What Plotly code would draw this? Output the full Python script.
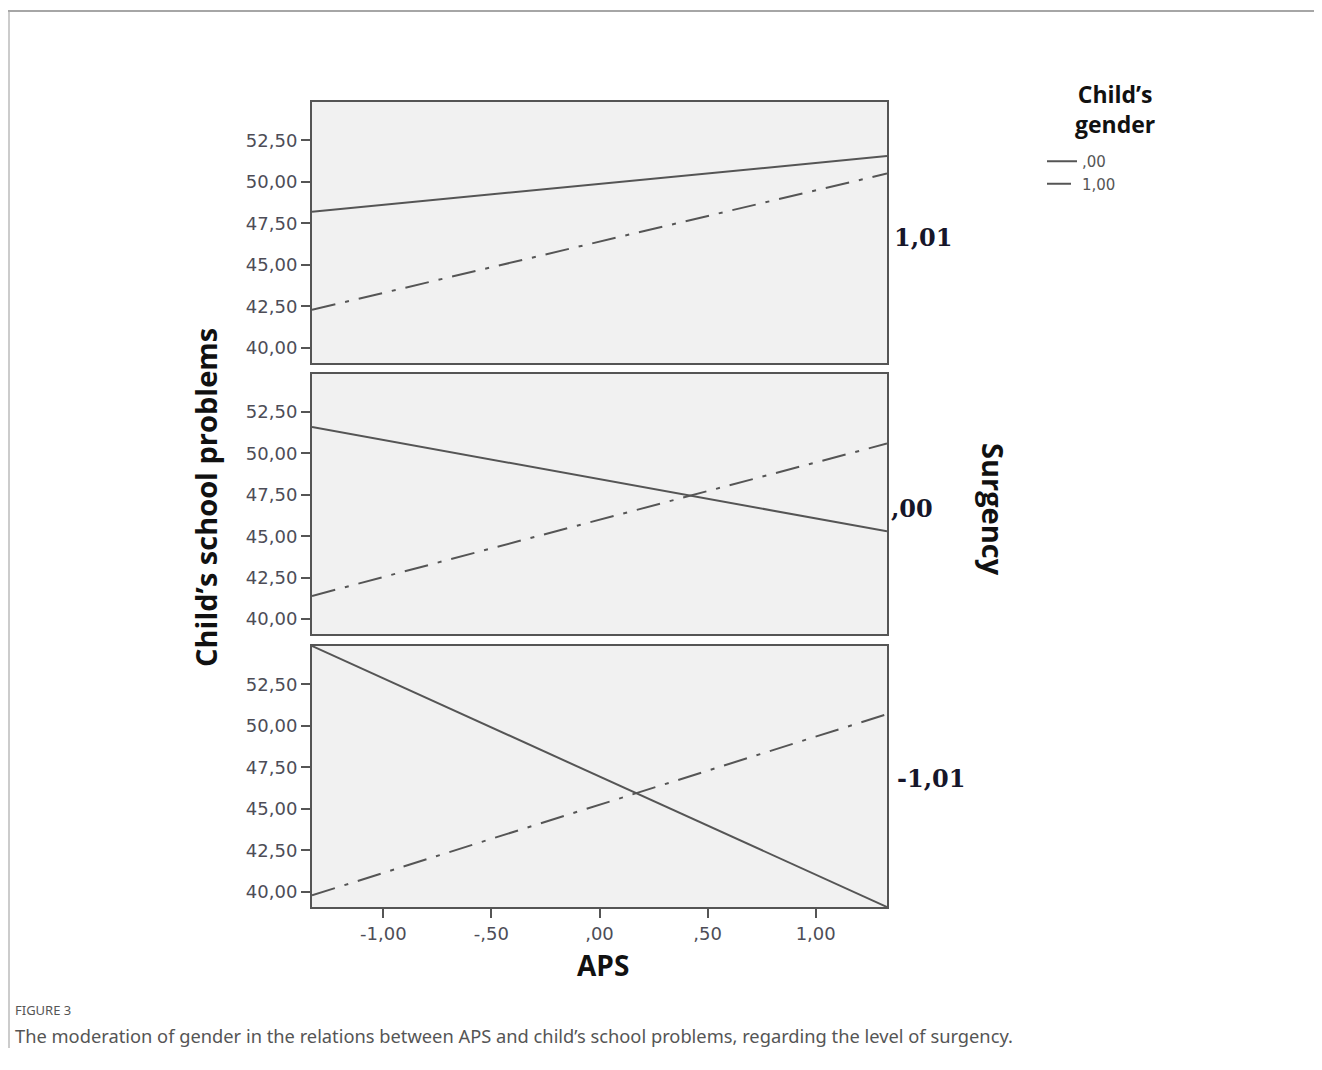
import plotly.graph_objects as go

# ---- data ----
aps_ends = [-1.33, 1.33]                      # APS min / max
surgency_levels = ["1,01", ",00", "-1,01"]    # panels top -> bottom
gender_labels = [",00", "1,00"]
gender0_start = [48.2, 51.6, 54.8]   # solid line, value at APS min
gender0_end = [51.55, 45.3, 39.1]    # solid line, value at APS max
gender1_start = [42.3, 41.4, 39.8]   # dash-dot line, value at APS min
gender1_end = [50.5, 50.6, 50.7]     # dash-dot line, value at APS max
y_ticks = [40.0, 42.5, 45.0, 47.5, 50.0, 52.5]
y_tick_text = ["40,00", "42,50", "45,00", "47,50", "50,00", "52,50"]
x_ticks = [-1.0, -0.5, 0.0, 0.5, 1.0]
x_tick_text = ["-1,00", "-,50", ",00", ",50", "1,00"]

OFF = 8  # page body margin
W, H = 1322 - OFF, 1070 - OFF
def px(x):
    return (x - OFF) / W
def py(y):
    return 1 - (y - OFF) / H

panel_px = [(102, 363), (374, 634), (646, 907)]
x_dom = [px(312), px(887)]
line_col = "#555555"
tick_font = dict(family="DejaVu Sans", size=18, color="#4d4d57")

fig = go.Figure()
for i in range(3):
    xa = "x" if i == 0 else f"x{i+1}"
    ya = "y" if i == 0 else f"y{i+1}"
    fig.add_trace(go.Scatter(
        x=aps_ends, y=[gender0_start[i], gender0_end[i]], mode="lines",
        line=dict(color=line_col, width=2), name=gender_labels[0],
        legendgroup="g0", showlegend=(i == 0), xaxis=xa, yaxis=ya,
        hoverinfo="skip"))
    fig.add_trace(go.Scatter(
        x=aps_ends, y=[gender1_start[i], gender1_end[i]], mode="lines",
        line=dict(color=line_col, width=2, dash="24px,10px,4px,10px"),
        name=gender_labels[1], legendgroup="g1", showlegend=(i == 0),
        xaxis=xa, yaxis=ya, hoverinfo="skip"))

layout = dict(
    width=W, height=H, margin=dict(l=0, r=0, t=0, b=0),
    paper_bgcolor="white", plot_bgcolor="#f1f1f1",
    font=dict(family="DejaVu Sans", color="#444444"),
)
for i, (top, bot) in enumerate(panel_px):
    xk = "xaxis" if i == 0 else f"xaxis{i+1}"
    yk = "yaxis" if i == 0 else f"yaxis{i+1}"
    last = (i == 2)
    layout[xk] = dict(
        domain=x_dom, range=[-1.33, 1.33], anchor=("y" if i == 0 else f"y{i+1}"),
        showgrid=False, zeroline=False, showline=True, mirror=True,
        linecolor=line_col, linewidth=2,
        tickvals=x_ticks if last else [], ticktext=x_tick_text if last else [],
        ticks="outside" if last else "", ticklen=9, tickwidth=2, tickcolor=line_col,
        showticklabels=last, tickfont=tick_font, fixedrange=True)
    layout[yk] = dict(
        domain=[py(bot), py(top)], range=[39.1, 54.8],
        anchor=("x" if i == 0 else f"x{i+1}"),
        showgrid=False, zeroline=False, showline=True, mirror=True,
        linecolor=line_col, linewidth=2,
        tickvals=y_ticks, ticktext=y_tick_text, ticks="outside", ticklen=9,
        tickwidth=2, tickcolor=line_col, tickfont=tick_font, fixedrange=True)
fig.update_layout(**layout)

bold = "Open Sans"
dark = "#111111"
ann = []
ann.append(dict(x=px(206), y=py(498), text="<b>Child’s school problems</b>",
                textangle=-90, font=dict(family=bold, size=29, color=dark)))
ann.append(dict(x=px(603), y=py(965), text="<b>APS</b>",
                font=dict(family=bold, size=28, color=dark)))
ann.append(dict(x=px(993), y=py(509), text="<b>Surgency</b>",
                textangle=90, font=dict(family=bold, size=29, color=dark)))
ann.append(dict(x=px(1115), y=py(109), text="<b>Child’s<br>gender</b>",
                font=dict(family=bold, size=23, color=dark)))
label_pos = [(923, 237), (912, 508), (931, 778)]
for lab, (lx, ly) in zip(surgency_levels, label_pos):
    ann.append(dict(x=px(lx), y=py(ly), text=f"<b>{lab}</b>",
                    font=dict(family="DejaVu Serif", size=24, color="#16162a")))
for a in ann:
    a.update(xanchor="center", yanchor="middle")
ann.append(dict(x=px(13), y=py(1010), text="FIGURE 3", xanchor="left", yanchor="middle",
                font=dict(family="Noto Sans", size=13, color="#555555")))
ann.append(dict(x=px(13), y=py(1035),
                text="The moderation of gender in the relations between APS and child’s school problems, regarding the level of surgency.",
                xanchor="left", yanchor="middle",
                font=dict(family="Noto Sans", size=18.3, color="#555555")))
for a in ann:
    a.update(xref="paper", yref="paper", showarrow=False)
fig.update_layout(annotations=ann)

fig.update_layout(
    showlegend=True,
    legend=dict(
        x=px(1042), y=py(145), xanchor="left", yanchor="top",
        font=dict(family="DejaVu Sans", size=15, color="#555555"),
        itemwidth=30, tracegroupgap=0, bgcolor="rgba(0,0,0,0)"),
)

fig.update_layout(shapes=[
    dict(type="line", xref="paper", yref="paper", x0=0, x1=1, y0=py(11), y1=py(11),
         line=dict(color="#888888", width=1.5)),
    dict(type="line", xref="paper", yref="paper", x0=1 / W, x1=1 / W, y0=py(11), y1=py(1048),
         line=dict(color="#aaaaaa", width=1.2)),
])

fig.write_html("out.html")
